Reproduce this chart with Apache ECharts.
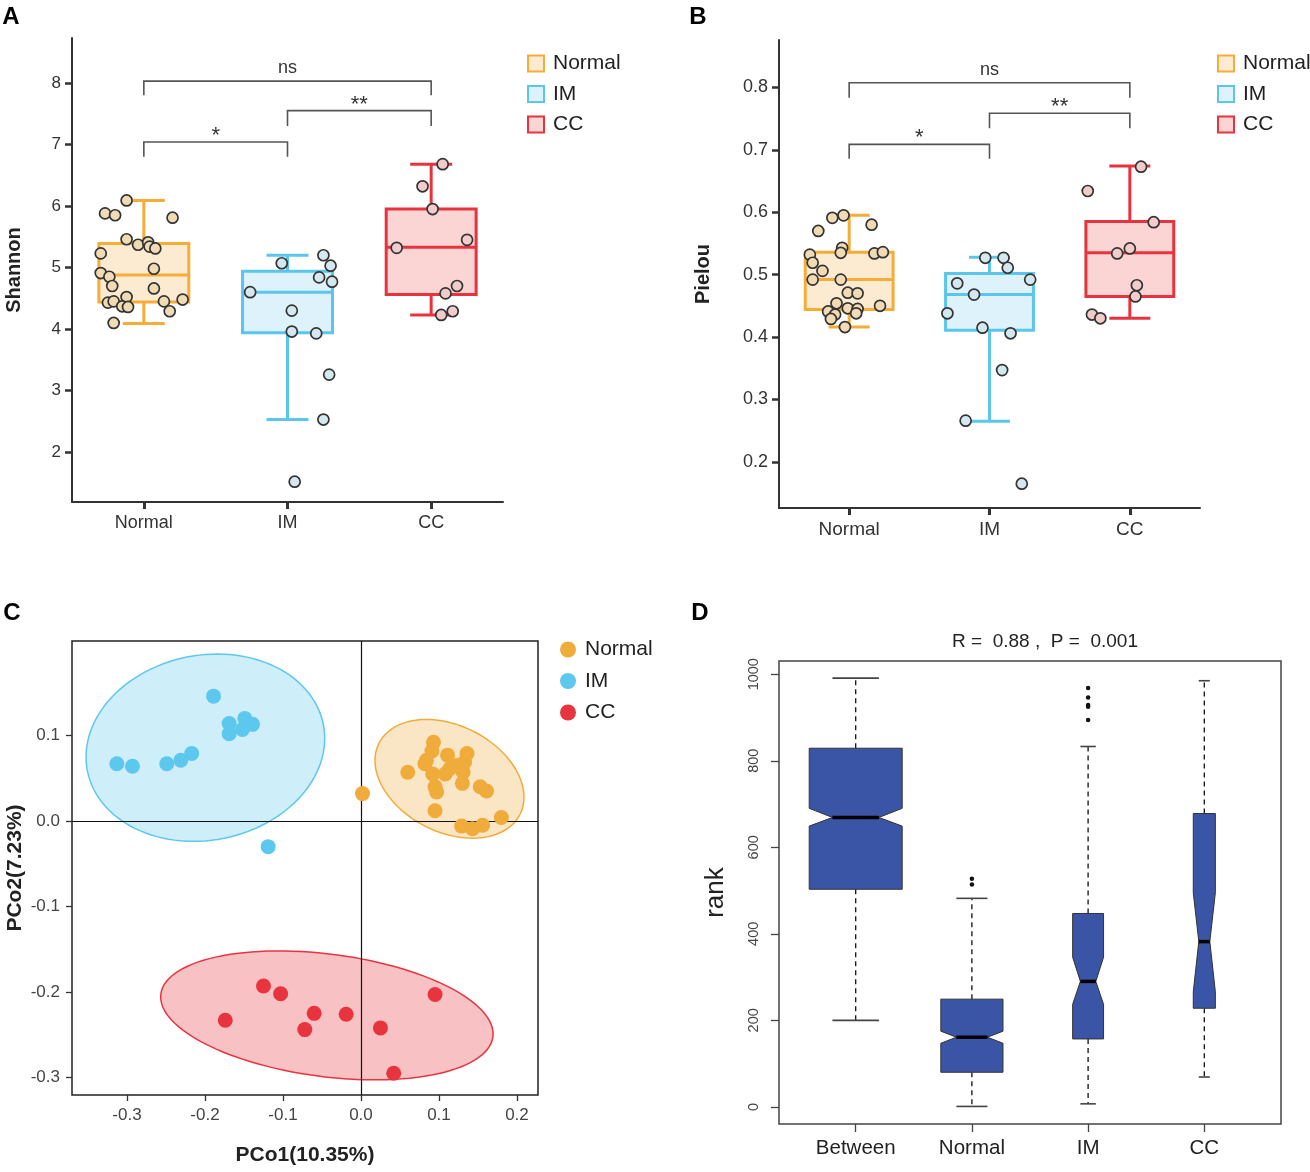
<!DOCTYPE html>
<html>
<head>
<meta charset="utf-8">
<script src="https://cdn.jsdelivr.net/npm/echarts@6/dist/echarts.min.js"></script>
<style>
  html, body { margin: 0; background: #fff; }
  #main { width: 1310px; height: 1172px; }
</style>
</head>
<body>
<div id="main"></div>
<script>
const FONT = '"Liberation Sans", Arial, sans-serif';
const groups = ['Normal', 'IM', 'CC'];

// A - Shannon: [lo, q1, median, q3, hi]
const shannonStats = [
  [4.09, 4.44, 4.88, 5.39, 6.09],
  [2.53, 3.94, 4.60, 4.94, 5.20],
  [4.23, 4.56, 5.33, 5.95, 6.68]
];
const shannonNormal = [[-0.12,6.09],[-0.27,5.88],[-0.20,5.85],[0.20,5.81],[-0.12,5.46],[-0.04,5.37],[0.03,5.41],[0.04,5.34],[0.08,5.31],[-0.30,5.23],[0.07,4.98],[-0.30,4.91],[-0.24,4.85],[-0.22,4.70],[0.07,4.66],[-0.12,4.52],[0.14,4.45],[0.27,4.48],[-0.25,4.43],[-0.21,4.45],[-0.15,4.37],[-0.11,4.36],[0.18,4.29],[-0.21,4.10]];
const shannonIM = [[1.25,5.20],[0.96,5.07],[1.30,5.03],[1.22,4.84],[1.31,4.77],[0.74,4.60],[1.03,4.30],[1.03,3.96],[1.20,3.93],[1.29,3.26],[1.25,2.53],[1.05,1.52]];
const shannonCC = [[2.08,6.68],[1.94,6.32],[2.01,5.95],[1.76,5.32],[2.25,5.45],[2.18,4.70],[2.10,4.58],[2.15,4.29],[2.07,4.23]];
const shannonTicks = [2, 3, 4, 5, 6, 7, 8];
// brackets: [from, to, top, drop]
const bracketsA = [[0, 2, 8.03, 7.80], [1, 2, 7.55, 7.30], [0, 1, 7.04, 6.80]];
const bracketLabels = ['ns', '**', '*'];

// B - Pielou
const pielouStats = [
  [0.416, 0.444, 0.492, 0.536, 0.595],
  [0.265, 0.411, 0.468, 0.502, 0.528],
  [0.430, 0.465, 0.535, 0.585, 0.674]
];
const pielouNormal = [[-0.04,0.595],[-0.12,0.591],[0.16,0.580],[-0.22,0.570],[-0.05,0.543],[-0.06,0.535],[0.18,0.534],[0.24,0.536],[-0.28,0.532],[-0.26,0.519],[-0.19,0.506],[-0.06,0.492],[-0.26,0.492],[-0.01,0.471],[0.06,0.470],[0.22,0.450],[-0.09,0.454],[-0.01,0.446],[0.06,0.445],[-0.15,0.441],[-0.10,0.436],[0.05,0.438],[-0.13,0.429],[-0.03,0.416]];
const pielouIM = [[0.97,0.527],[1.10,0.527],[1.13,0.511],[1.29,0.492],[0.77,0.486],[0.89,0.468],[0.70,0.438],[0.95,0.415],[1.15,0.406],[1.09,0.347],[0.83,0.266],[1.23,0.165]];
const pielouCC = [[2.08,0.673],[1.70,0.634],[2.17,0.584],[2.00,0.542],[1.91,0.534],[2.05,0.483],[2.04,0.465],[1.73,0.436],[1.79,0.430]];
const pielouTicks = [0.2, 0.3, 0.4, 0.5, 0.6, 0.7, 0.8];
const bracketsB = [[0, 2, 0.8075, 0.7833], [1, 2, 0.7587, 0.7346], [0, 1, 0.7087, 0.6858]];

// C - PCoA
const pcoaNormal = [[0.002,0.032],[0.060,0.057],[0.093,0.092],[0.091,0.082],[0.084,0.071],[0.082,0.067],[0.111,0.077],[0.092,0.055],[0.108,0.055],[0.114,0.061],[0.123,0.065],[0.136,0.079],[0.133,0.069],[0.131,0.057],[0.130,0.044],[0.095,0.040],[0.097,0.034],[0.153,0.040],[0.161,0.035],[0.095,0.012],[0.180,0.004],[0.129,-0.006],[0.143,-0.009],[0.156,-0.005]];
const pcoaIM = [[-0.313,0.067],[-0.293,0.064],[-0.249,0.067],[-0.231,0.071],[-0.217,0.079],[-0.189,0.146],[-0.169,0.114],[-0.169,0.102],[-0.149,0.120],[-0.152,0.107],[-0.139,0.113],[-0.119,-0.030]];
const pcoaCC = [[-0.125,-0.193],[-0.103,-0.202],[-0.174,-0.233],[-0.060,-0.225],[-0.072,-0.244],[-0.019,-0.226],[0.025,-0.242],[0.042,-0.295],[0.095,-0.203]];
// ellipse: [cx, cy, rx, ry, slope]
const ellipseNormal = [0.1135, 0.0493, 0.0955, 0.066, -0.225];
const ellipseIM = [-0.1995, 0.0857, 0.153, 0.109, 0.071];
const ellipseCC = [-0.0437, -0.2274, 0.2131, 0.0722, -0.1018];
const pcoaXTicks = [-0.3, -0.2, -0.1, 0, 0.1, 0.2];
const pcoaYTicks = [-0.3, -0.2, -0.1, 0, 0.1];

// D - ANOSIM ranks: [lo, q1, notchLo, median, notchHi, q3, hi]
const rankCats = ['Between', 'Normal', 'IM', 'CC'];
const rankStats = [
  [200, 503, 649, 669, 690, 829, 991],
  [1, 80, 147, 161, 175, 249, 482],
  [7, 157, 237, 290, 346, 447, 833],
  [69, 228, 266, 382, 495, 678, 985]
];
const rankOutliers = [[2,527],[2,514],[3,968],[3,946],[3,929],[3,925],[3,894]];
const rankTicks = [0, 200, 400, 600, 800, 1000];
const boxWidths = [0.8, 0.535, 0.266, 0.19];

const lineCol = { Normal: '#F5AC38', IM: '#5BC6EC', CC: '#E8333E' };
const fillCol = { Normal: '#FDEBD1', IM: '#DDF2FA', CC: '#FAD5D4' };
const dotCol = { Normal: '#F0DBB5', IM: '#D3E8EF', CC: '#F2CBCB' };
const pcoaCol = { Normal: '#F0AC3B', IM: '#5CC8EE', CC: '#E8343F' };
const pcoaFill = { Normal: 'rgba(240,172,59,0.3)', IM: 'rgba(92,200,238,0.3)', CC: 'rgba(232,52,63,0.3)' };

function boxSeries(ax, stats, i) {
  const g = groups[i];
  return {
    type: 'custom', name: g, xAxisIndex: ax, yAxisIndex: ax, z: 2,
    data: [[i].concat(stats[i])],
    renderItem: (params, api) => {
      const x = api.value(0);
      const py = k => api.coord([x, api.value(k)])[1];
      const cx = api.coord([x, api.value(1)])[0];
      const hw = api.size([0.313, 0])[0];
      const cw = api.size([0.146, 0])[0];
      const ls = { stroke: lineCol[g], lineWidth: 3 };
      const lo = py(1), q1 = py(2), md = py(3), q3 = py(4), hi = py(5);
      return { type: 'group', children: [
        { type: 'line', shape: { x1: cx, y1: q3, x2: cx, y2: hi }, style: ls },
        { type: 'line', shape: { x1: cx, y1: q1, x2: cx, y2: lo }, style: ls },
        { type: 'line', shape: { x1: cx - cw, y1: hi, x2: cx + cw, y2: hi }, style: ls },
        { type: 'line', shape: { x1: cx - cw, y1: lo, x2: cx + cw, y2: lo }, style: ls },
        { type: 'rect', shape: { x: cx - hw, y: q3, width: 2 * hw, height: q1 - q3 },
          style: { fill: fillCol[g], stroke: lineCol[g], lineWidth: 3 } },
        { type: 'line', shape: { x1: cx - hw, y1: md, x2: cx + hw, y2: md }, style: ls }
      ] };
    }
  };
}

function dotSeries(ax, data, g) {
  return {
    type: 'scatter', name: g, xAxisIndex: ax, yAxisIndex: ax, z: 3,
    data: data, symbolSize: 11,
    itemStyle: { color: dotCol[g], borderColor: '#333', borderWidth: 1.7, opacity: 1 }
  };
}

function bracketSeries(ax, data) {
  return {
    type: 'custom', xAxisIndex: ax, yAxisIndex: ax, z: 4, silent: true,
    data: data,
    renderItem: (params, api) => {
      const a = api.coord([api.value(0), api.value(3)]);
      const b = api.coord([api.value(0), api.value(2)]);
      const c = api.coord([api.value(1), api.value(2)]);
      const d = api.coord([api.value(1), api.value(3)]);
      const lab = bracketLabels[params.dataIndex];
      const isNs = lab === 'ns';
      return { type: 'group', children: [
        { type: 'polyline', shape: { points: [a, b, c, d] },
          style: { stroke: '#555', lineWidth: 1.6, fill: null } },
        { type: 'text', x: (b[0] + c[0]) / 2, y: b[1] - (isNs ? 13 : 6),
          style: { text: lab, align: 'center', verticalAlign: 'middle',
                   fontFamily: FONT, fontSize: isNs ? 18 : 22, fill: '#333' } }
      ] };
    }
  };
}

function ellipseSeries(e, g) {
  return {
    type: 'custom', name: g, xAxisIndex: 2, yAxisIndex: 2, z: 1, silent: true,
    data: [e],
    renderItem: (params, api) => {
      const cx = api.value(0), cy = api.value(1), rx = api.value(2), ry = api.value(3), s = api.value(4);
      const pts = [];
      for (let k = 0; k < 120; k++) {
        const t = k / 120 * Math.PI * 2;
        pts.push(api.coord([cx + rx * Math.cos(t), cy + s * rx * Math.cos(t) + ry * Math.sin(t)]));
      }
      return { type: 'polygon', shape: { points: pts },
        style: { fill: pcoaFill[g], stroke: pcoaCol[g], lineWidth: 1.5 } };
    }
  };
}

function pcoaDots(data, g) {
  return {
    type: 'scatter', name: g, xAxisIndex: 2, yAxisIndex: 2, z: 6,
    data: data, symbolSize: 15,
    itemStyle: { color: pcoaCol[g], opacity: 1 }
  };
}

const rankSeries = {
  type: 'custom', xAxisIndex: 3, yAxisIndex: 3, z: 2,
  data: rankStats.map((s, i) => [i + 1].concat(s)),
  renderItem: (params, api) => {
    const x = api.value(0);
    const py = k => api.coord([x, api.value(k)])[1];
    const cx = api.coord([x, api.value(1)])[0];
    const hw = api.size([boxWidths[params.dataIndex] / 2, 0])[0];
    const lo = py(1), q1 = py(2), nlo = py(3), md = py(4), nhi = py(5), q3 = py(6), hi = py(7);
    const dash = { stroke: '#111', lineWidth: 1.3, lineDash: [5, 4] };
    const cap = { stroke: '#444', lineWidth: 1.6 };
    return { type: 'group', children: [
      { type: 'line', shape: { x1: cx, y1: q3, x2: cx, y2: hi }, style: dash },
      { type: 'line', shape: { x1: cx, y1: q1, x2: cx, y2: lo }, style: dash },
      { type: 'line', shape: { x1: cx - hw / 2, y1: hi, x2: cx + hw / 2, y2: hi }, style: cap },
      { type: 'line', shape: { x1: cx - hw / 2, y1: lo, x2: cx + hw / 2, y2: lo }, style: cap },
      { type: 'polygon', shape: { points: [
          [cx - hw, q1], [cx - hw, nlo], [cx - hw / 2, md], [cx - hw, nhi], [cx - hw, q3],
          [cx + hw, q3], [cx + hw, nhi], [cx + hw / 2, md], [cx + hw, nlo], [cx + hw, q1]] },
        style: { fill: '#3A55A5', stroke: '#333', lineWidth: 1 } },
      { type: 'line', shape: { x1: cx - hw / 2, y1: md, x2: cx + hw / 2, y2: md },
        style: { stroke: '#000', lineWidth: 3.5 } }
    ] };
  }
};

function catAxis(grid, fs) {
  return {
    gridIndex: grid, type: 'value', min: -0.5, max: 2.5,
    axisLine: { show: true, onZero: false, lineStyle: { color: '#333', width: 2 } },
    axisTick: { show: true, customValues: [0, 1, 2], length: 7, lineStyle: { color: '#333', width: 3 } },
    axisLabel: { customValues: [0, 1, 2], formatter: v => groups[Math.round(v)],
                 fontSize: fs, color: '#333', margin: 12, fontFamily: FONT },
    splitLine: { show: false }
  };
}

function valAxis(grid, min, max, ticks, fmt, fs, name, gap) {
  return {
    gridIndex: grid, type: 'value', min: min, max: max,
    axisLine: { show: true, onZero: false, lineStyle: { color: '#333', width: 2 } },
    axisTick: { show: true, customValues: ticks, length: 7, lineStyle: { color: '#333', width: 2.5 } },
    axisLabel: { customValues: ticks, formatter: fmt, fontSize: fs, color: '#333', margin: 11, fontFamily: FONT },
    splitLine: { show: false },
    name: name, nameLocation: 'middle', nameGap: gap,
    nameTextStyle: { fontSize: 20, fontWeight: 'bold', color: '#222', fontFamily: FONT }
  };
}

function boxLegend(left) {
  return {
    left: left, top: 53, padding: 0, orient: 'vertical', icon: 'rect', selectedMode: false,
    itemWidth: 16, itemHeight: 16, itemGap: 9.5,
    textStyle: { fontSize: 21, color: '#222', fontFamily: FONT, padding: [0, 0, 0, 4] },
    data: groups.map(g => ({ name: g, itemStyle: { color: fillCol[g], borderColor: lineCol[g], borderWidth: 2 } }))
  };
}

const chart = echarts.init(document.getElementById('main'));
chart.setOption({
  animation: false,
  backgroundColor: '#fff',
  textStyle: { fontFamily: FONT },
  grid: [
    { left: 72, top: 38, width: 431, height: 464 },
    { left: 779, top: 40, width: 421, height: 468 },
    { left: 72, top: 641, width: 466, height: 454, show: true, borderColor: '#222', borderWidth: 1.5, backgroundColor: 'transparent' },
    { left: 779, top: 661, width: 502, height: 463, show: true, borderColor: '#444', borderWidth: 1.5, backgroundColor: 'transparent' }
  ],
  xAxis: [
    catAxis(0, 18),
    catAxis(1, 19),
    {
      gridIndex: 2, type: 'value', min: -0.3705, max: 0.227,
      axisLine: { show: false, onZero: false },
      axisTick: { show: true, customValues: pcoaXTicks, length: 6, lineStyle: { color: '#333', width: 1.3 } },
      axisLabel: { customValues: pcoaXTicks, formatter: v => v.toFixed(1), fontSize: 17, color: '#444', margin: 12, fontFamily: FONT },
      splitLine: { show: false },
      name: 'PCo1(10.35%)', nameLocation: 'middle', nameGap: 50,
      nameTextStyle: { fontSize: 21, fontWeight: 'bold', color: '#222', fontFamily: FONT }
    },
    {
      gridIndex: 3, type: 'value', min: 0.34, max: 4.66,
      axisLine: { show: false, onZero: false },
      axisTick: { show: true, customValues: [1, 2, 3, 4], length: 8, lineStyle: { color: '#444', width: 1.3 } },
      axisLabel: { customValues: [1, 2, 3, 4], formatter: v => rankCats[Math.round(v) - 1],
                   fontSize: 20.5, color: '#222', margin: 14, fontFamily: FONT },
      splitLine: { show: false }
    }
  ],
  yAxis: [
    valAxis(0, 1.19, 8.73, shannonTicks, v => String(v), 17, 'Shannon', 48),
    valAxis(1, 0.126, 0.876, pielouTicks, v => v.toFixed(1), 18, 'Pielou', 66),
    {
      gridIndex: 2, type: 'value', min: -0.3205, max: 0.2105,
      axisLine: { show: false, onZero: false },
      axisTick: { show: true, customValues: pcoaYTicks, length: 6, lineStyle: { color: '#333', width: 1.3 } },
      axisLabel: { customValues: pcoaYTicks, formatter: v => v.toFixed(1), fontSize: 17, color: '#444', margin: 12, fontFamily: FONT },
      splitLine: { show: false },
      name: 'PCo2(7.23%)', nameLocation: 'middle', nameGap: 46,
      nameTextStyle: { fontSize: 21, fontWeight: 'bold', color: '#222', fontFamily: FONT }
    },
    {
      gridIndex: 3, type: 'value', min: -39.6, max: 1030.6,
      axisLine: { show: false, onZero: false },
      axisTick: { show: true, customValues: rankTicks, length: 8, lineStyle: { color: '#444', width: 1.3 } },
      axisLabel: { customValues: rankTicks, formatter: v => String(v), rotate: 90, fontSize: 14.5, color: '#444', margin: 18, fontFamily: FONT },
      splitLine: { show: false },
      name: 'rank', nameLocation: 'middle', nameGap: 50,
      nameTextStyle: { fontSize: 26, color: '#222', fontFamily: FONT }
    }
  ],
  legend: [
    boxLegend(527),
    boxLegend(1217),
    {
      left: 560, top: 639, padding: 0, orient: 'vertical', icon: 'circle', selectedMode: false,
      itemWidth: 16, itemHeight: 16, itemGap: 10.5,
      textStyle: { fontSize: 21, color: '#222', fontFamily: FONT, padding: [0, 0, 0, 4] },
      data: groups.map(g => ({ name: g, itemStyle: { color: pcoaCol[g], borderWidth: 0 } }))
    }
  ],
  graphic: [
    { type: 'text', x: 11, y: 17, style: { text: 'A', align: 'center', verticalAlign: 'middle', font: 'bold 24px ' + FONT, fill: '#000' } },
    { type: 'text', x: 698, y: 17, style: { text: 'B', align: 'center', verticalAlign: 'middle', font: 'bold 24px ' + FONT, fill: '#000' } },
    { type: 'text', x: 12, y: 613, style: { text: 'C', align: 'center', verticalAlign: 'middle', font: 'bold 24px ' + FONT, fill: '#000' } },
    { type: 'text', x: 700, y: 613, style: { text: 'D', align: 'center', verticalAlign: 'middle', font: 'bold 24px ' + FONT, fill: '#000' } },
    { type: 'text', x: 1045, y: 642, style: { text: 'R =  0.88 ,  P =  0.001', align: 'center', verticalAlign: 'middle', font: '19px ' + FONT, fill: '#222' } }
  ],
  series: [
    boxSeries(0, shannonStats, 0), boxSeries(0, shannonStats, 1), boxSeries(0, shannonStats, 2),
    dotSeries(0, shannonNormal, 'Normal'), dotSeries(0, shannonIM, 'IM'), dotSeries(0, shannonCC, 'CC'),
    bracketSeries(0, bracketsA),
    boxSeries(1, pielouStats, 0), boxSeries(1, pielouStats, 1), boxSeries(1, pielouStats, 2),
    dotSeries(1, pielouNormal, 'Normal'), dotSeries(1, pielouIM, 'IM'), dotSeries(1, pielouCC, 'CC'),
    bracketSeries(1, bracketsB),
    ellipseSeries(ellipseIM, 'IM'), ellipseSeries(ellipseNormal, 'Normal'), ellipseSeries(ellipseCC, 'CC'),
    {
      type: 'scatter', xAxisIndex: 2, yAxisIndex: 2, data: [], silent: true,
      markLine: { silent: true, symbol: ['none', 'none'], label: { show: false },
        lineStyle: { color: '#111', type: 'solid', width: 1.2 },
        data: [{ xAxis: 0 }, { yAxis: 0 }] }
    },
    pcoaDots(pcoaNormal, 'Normal'), pcoaDots(pcoaIM, 'IM'), pcoaDots(pcoaCC, 'CC'),
    rankSeries,
    {
      type: 'scatter', xAxisIndex: 3, yAxisIndex: 3, z: 3, data: rankOutliers,
      symbolSize: 4.5, itemStyle: { color: '#111', opacity: 1 }
    }
  ]
});
</script>
</body>
</html>
